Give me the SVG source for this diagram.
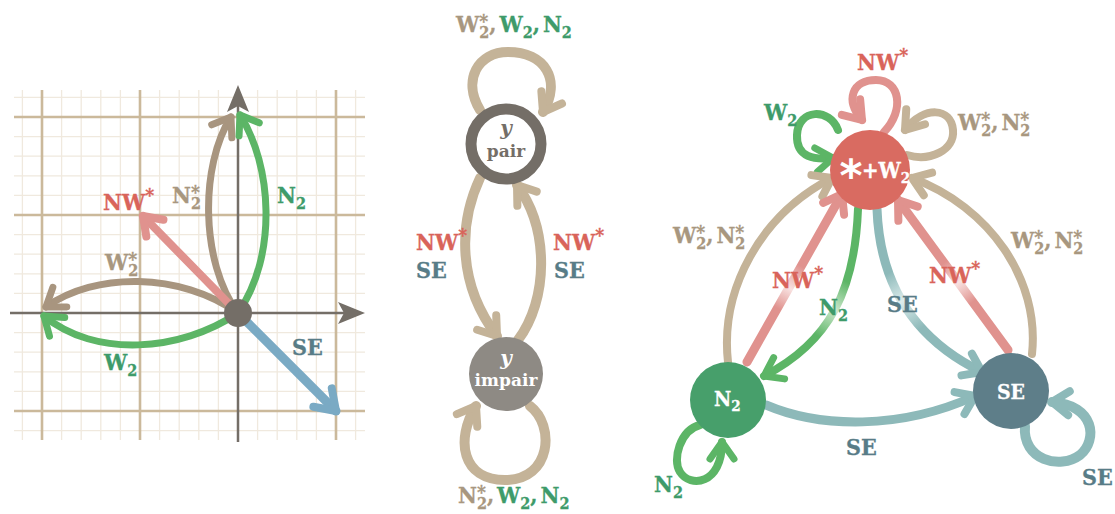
<svg xmlns="http://www.w3.org/2000/svg" width="1115" height="514" viewBox="0 0 1115 514">
<defs>
<style>
.t{font-family:"DejaVu Serif Condensed","DejaVu Serif",serif;font-stretch:condensed;font-weight:700;font-size:23px;stroke-width:0.3;paint-order:stroke}
.s{font-size:16px}
.a{font-size:19px}
.red{fill:#d9645a;stroke:#d9645a}
.grn{fill:#3e9b6a;stroke:#3e9b6a}
.tan{fill:#a8977f;stroke:#a8977f}
.se{fill:#587c87;stroke:#587c87}
.wht{fill:#fff;stroke:#fff}
.ln{fill:none;stroke-linecap:round;stroke-linejoin:round}
.nt{font-family:"DejaVu Serif","Liberation Serif",serif;font-weight:700;fill:#fff;text-anchor:middle}
</style>
<marker id="aTanL" markerUnits="userSpaceOnUse" markerWidth="50" markerHeight="50" viewBox="-25 -25 50 50" refX="0" refY="0" orient="auto" overflow="visible"><path d="M-17,-12 L0,0 L-17,12" fill="none" stroke="#a8957f" stroke-width="7" stroke-linecap="round" stroke-linejoin="round"/></marker>
<marker id="aTan" markerUnits="userSpaceOnUse" markerWidth="50" markerHeight="50" viewBox="-25 -25 50 50" refX="0" refY="0" orient="auto" overflow="visible"><path d="M-17,-12 L0,0 L-17,12" fill="none" stroke="#c4b398" stroke-width="8" stroke-linecap="round" stroke-linejoin="round"/></marker>
<marker id="aGrn" markerUnits="userSpaceOnUse" markerWidth="50" markerHeight="50" viewBox="-25 -25 50 50" refX="0" refY="0" orient="auto" overflow="visible"><path d="M-17,-12 L0,0 L-17,12" fill="none" stroke="#5cb566" stroke-width="7" stroke-linecap="round" stroke-linejoin="round"/></marker>
<marker id="aPnk" markerUnits="userSpaceOnUse" markerWidth="50" markerHeight="50" viewBox="-25 -25 50 50" refX="0" refY="0" orient="auto" overflow="visible"><path d="M-17,-12 L0,0 L-17,12" fill="none" stroke="#e0928e" stroke-width="8" stroke-linecap="round" stroke-linejoin="round"/></marker>
<marker id="aBlu" markerUnits="userSpaceOnUse" markerWidth="50" markerHeight="50" viewBox="-25 -25 50 50" refX="0" refY="0" orient="auto" overflow="visible"><path d="M-19,-13 L0,0 L-19,13" fill="none" stroke="#7aaac4" stroke-width="8" stroke-linecap="round" stroke-linejoin="round"/></marker>
<marker id="aTeal" markerUnits="userSpaceOnUse" markerWidth="50" markerHeight="50" viewBox="-25 -25 50 50" refX="0" refY="0" orient="auto" overflow="visible"><path d="M-17,-12 L0,0 L-17,12" fill="none" stroke="#8db9b9" stroke-width="8" stroke-linecap="round" stroke-linejoin="round"/></marker>
<linearGradient id="gPinkL" gradientUnits="userSpaceOnUse" x1="747" y1="362" x2="842" y2="194"><stop offset="0" stop-color="#e0928e"/><stop offset="0.32" stop-color="#e0928e"/><stop offset="0.44" stop-color="#f8e2e1"/><stop offset="0.57" stop-color="#e0928e"/><stop offset="1" stop-color="#e0928e"/></linearGradient>
<linearGradient id="gPinkR" gradientUnits="userSpaceOnUse" x1="1008" y1="350" x2="898" y2="200"><stop offset="0" stop-color="#e0928e"/><stop offset="0.32" stop-color="#e0928e"/><stop offset="0.45" stop-color="#f8e2e1"/><stop offset="0.58" stop-color="#e0928e"/><stop offset="1" stop-color="#e0928e"/></linearGradient>
<linearGradient id="gGrn" gradientUnits="userSpaceOnUse" x1="858" y1="209" x2="764" y2="376"><stop offset="0" stop-color="#5cb566"/><stop offset="0.36" stop-color="#5cb566"/><stop offset="0.52" stop-color="#cbe7cb"/><stop offset="0.68" stop-color="#5cb566"/><stop offset="1" stop-color="#5cb566"/></linearGradient>
<linearGradient id="gTeal" gradientUnits="userSpaceOnUse" x1="877" y1="209" x2="982" y2="372"><stop offset="0" stop-color="#8db9b9"/><stop offset="0.31" stop-color="#8db9b9"/><stop offset="0.47" stop-color="#dcecec"/><stop offset="0.64" stop-color="#8db9b9"/><stop offset="1" stop-color="#8db9b9"/></linearGradient>
</defs>
<rect width="1115" height="514" fill="#fff"/>

<!-- Left panel: grid -->
<g id="grid">
<path d="M22.4,90V440M61.6,90V440M81.2,90V440M100.8,90V440M120.4,90V440M159.6,90V440M179.2,90V440M198.8,90V440M218.4,90V440M257.6,90V440M277.2,90V440M296.8,90V440M316.4,90V440M355.6,90V440M14,97.4H365M14,136.6H365M14,156.2H365M14,175.8H365M14,195.4H365M14,234.6H365M14,254.2H365M14,273.8H365M14,293.4H365M14,332.6H365M14,352.2H365M14,371.8H365M14,391.4H365M14,430.6H365" stroke="#f0e9de" stroke-width="1.3" fill="none"/>
<path d="M42,90V440M140,90V440M336,90V440M14,117H365M14,215H365M14,411H365" stroke="#cbb99b" stroke-width="2.6" fill="none"/>
</g>
<g id="axes">
<path d="M10,313H345M238,442V105" stroke="#746e67" stroke-width="2.5" fill="none"/>
<polygon points="365,313 338,302 344,313 338,324" fill="#746e67"/>
<polygon points="238,85 227,112 238,106 249,112" fill="#746e67"/>
</g>
<g id="vectors">
<path class="ln" d="M238,313 C180,272 95,272 46,307" stroke="#a8957f" stroke-width="7" marker-end="url(#aTanL)"/>
<path class="ln" d="M238,313 C180,352 95,358 44,316" stroke="#5cb566" stroke-width="7" marker-end="url(#aGrn)"/>
<path class="ln" d="M238,313 C200,262 200,165 231,117" stroke="#a8957f" stroke-width="7" marker-end="url(#aTanL)"/>
<path class="ln" d="M238,313 C278,255 272,165 240,115" stroke="#5cb566" stroke-width="7" marker-end="url(#aGrn)"/>
<path class="ln" d="M238,313 L143,216" stroke="#e0928e" stroke-width="8" marker-end="url(#aPnk)"/>
<path class="ln" d="M238,313 L336,411" stroke="#7aaac4" stroke-width="9" marker-end="url(#aBlu)"/>
</g>
<g id="origin"><circle cx="238" cy="313" r="14" fill="#746e67"/></g>
<g id="left-labels">
<text class="t red" x="103" y="210">NW<tspan class="a" dy="-8">*</tspan></text>
<text class="t tan" x="172" y="203">N<tspan class="s" dy="6">2</tspan><tspan class="a" dx="-10" dy="-10.5">*</tspan></text>
<text class="t grn" x="277" y="203">N<tspan class="s" dy="6">2</tspan></text>
<text class="t tan" x="105" y="270">W<tspan class="s" dy="6">2</tspan><tspan class="a" dx="-10" dy="-10.5">*</tspan></text>
<text class="t grn" x="104" y="370">W<tspan class="s" dy="6">2</tspan></text>
<text class="t se" x="292" y="355">SE</text>
</g>

<!-- Middle panel -->
<g id="mid-connectors">
<path class="ln" d="M480,110 C462,80 478,52 508,52 C545,52 562,80 543,112" stroke="#c4b398" stroke-width="10" marker-end="url(#aTan)"/>
<path class="ln" d="M480,178 C458,225 458,285 497,336" stroke="#c4b398" stroke-width="10" marker-end="url(#aTan)"/>
<path class="ln" d="M518,340 C548,300 550,230 517,185" stroke="#c4b398" stroke-width="10" marker-end="url(#aTan)"/>
<path class="ln" d="M530,406 C555,425 552,480 505,480 C462,480 455,440 476,406" stroke="#c4b398" stroke-width="10" marker-end="url(#aTan)"/>
</g>
<g id="node-pair">
<circle cx="506" cy="144" r="35" fill="#fff" stroke="#746e67" stroke-width="11"/>
<text class="nt" x="506" y="135" font-size="20" font-style="italic" style="fill:#746e67">y</text>
<text class="nt" x="506" y="157" font-size="17" style="fill:#746e67">pair</text>
</g>
<g id="node-impair">
<circle cx="506" cy="374" r="37" fill="#8e8a84"/>
<text class="nt" x="506" y="365" font-size="20" font-style="italic">y</text>
<text class="nt" x="506" y="386" font-size="17">impair</text>
</g>
<g id="mid-labels">
<text class="t" x="456" y="32"><tspan class="tan">W<tspan class="s" dy="6">2</tspan><tspan class="a" dx="-10" dy="-10.5">*</tspan><tspan dx="1" dy="4.5">,</tspan></tspan><tspan class="grn" dx="3">W<tspan class="s" dy="6">2</tspan><tspan dy="-6">,</tspan><tspan dx="3">N</tspan><tspan class="s" dy="6">2</tspan></tspan></text>
<text class="t" x="458" y="503"><tspan class="tan">N<tspan class="s" dy="6">2</tspan><tspan class="a" dx="-10" dy="-10.5">*</tspan><tspan dx="1" dy="4.5">,</tspan></tspan><tspan class="grn" dx="3">W<tspan class="s" dy="6">2</tspan><tspan dy="-6">,</tspan><tspan dx="3">N</tspan><tspan class="s" dy="6">2</tspan></tspan></text>
<text class="t red" x="416" y="250">NW<tspan class="a" dy="-8">*</tspan></text>
<text class="t se" x="416" y="278">SE</text>
<text class="t red" x="553" y="250">NW<tspan class="a" dy="-8">*</tspan></text>
<text class="t se" x="554" y="278">SE</text>
</g>

<!-- Right panel -->
<g id="right-connectors">
<path class="ln" d="M838,130 C830,108 798,108 797,135 C796,158 815,160 833,158" stroke="#5cb566" stroke-width="8" marker-end="url(#aGrn)"/>
<path class="ln" d="M884,132 C905,110 900,80 876,80 C852,80 845,100 862,120" stroke="#e0928e" stroke-width="8" marker-end="url(#aPnk)"/>
<path class="ln" d="M907,155 C930,162 955,150 953,130 C951,108 925,105 905,130" stroke="#c4b398" stroke-width="8" marker-end="url(#aTan)"/>
<path class="ln" d="M728,362 C720,290 760,215 832,178" stroke="#c4b398" stroke-width="8" marker-end="url(#aTan)"/>
<path class="ln" d="M1032,354 C1040,280 990,207 912,178" stroke="#c4b398" stroke-width="8" marker-end="url(#aTan)"/>
<path class="ln" d="M747,362 L842,194" stroke="url(#gPinkL)" stroke-width="9" marker-end="url(#aPnk)"/>
<path class="ln" d="M1008,350 L898,200" stroke="url(#gPinkR)" stroke-width="9" marker-end="url(#aPnk)"/>
<path class="ln" d="M858,209 C855,290 830,342 764,376" stroke="url(#gGrn)" stroke-width="8" marker-end="url(#aGrn)"/>
<path class="ln" d="M877,209 C880,290 920,342 982,372" stroke="url(#gTeal)" stroke-width="9" marker-end="url(#aTeal)"/>
<path class="ln" d="M766,405 C820,428 900,430 975,396" stroke="#8db9b9" stroke-width="9" marker-end="url(#aTeal)"/>
<path class="ln" d="M700,425 C680,430 672,460 680,472 C690,488 722,485 722,442" stroke="#5cb566" stroke-width="8" marker-end="url(#aGrn)"/>
<path class="ln" d="M1025,426 C1022,460 1060,470 1080,455 C1098,440 1095,405 1052,402" stroke="#8db9b9" stroke-width="10" marker-end="url(#aTeal)"/>
</g>
<g id="node-star">
<circle cx="870" cy="170" r="40" fill="#d96b61"/>
<text x="851" y="191" font-family="DejaVu Sans, sans-serif" font-weight="700" font-size="44" fill="#fff" text-anchor="middle">*</text>
<text class="t wht" x="862" y="178" style="font-size:22px">+W<tspan class="s" style="font-size:15px" dy="5">2</tspan></text>
</g>
<g id="node-n2">
<circle cx="728" cy="400" r="38" fill="#479f6b"/>
<text class="t wht" x="714" y="406" style="font-size:21px">N<tspan class="s" style="font-size:15px" dy="5">2</tspan></text>
</g>
<g id="node-se">
<circle cx="1011" cy="391" r="38" fill="#5e7e89"/>
<text class="t wht" x="1011" y="399" style="font-size:21px" text-anchor="middle">SE</text>
</g>
<g id="right-labels">
<text class="t red" x="857" y="70">NW<tspan class="a" dy="-8">*</tspan></text>
<text class="t grn" x="764" y="120">W<tspan class="s" dy="6">2</tspan></text>
<text class="t tan" x="958" y="130">W<tspan class="s" dy="6">2</tspan><tspan class="a" dx="-10" dy="-10.5">*</tspan><tspan dx="1" dy="4.5">,</tspan><tspan dx="3">N</tspan><tspan class="s" dy="6">2</tspan><tspan class="a" dx="-10" dy="-10.5">*</tspan></text>
<text class="t tan" x="673" y="243">W<tspan class="s" dy="6">2</tspan><tspan class="a" dx="-10" dy="-10.5">*</tspan><tspan dx="1" dy="4.5">,</tspan><tspan dx="3">N</tspan><tspan class="s" dy="6">2</tspan><tspan class="a" dx="-10" dy="-10.5">*</tspan></text>
<text class="t tan" x="1011" y="248">W<tspan class="s" dy="6">2</tspan><tspan class="a" dx="-10" dy="-10.5">*</tspan><tspan dx="1" dy="4.5">,</tspan><tspan dx="3">N</tspan><tspan class="s" dy="6">2</tspan><tspan class="a" dx="-10" dy="-10.5">*</tspan></text>
<text class="t red" x="772" y="288">NW<tspan class="a" dy="-8">*</tspan></text>
<text class="t grn" x="819" y="315">N<tspan class="s" dy="6">2</tspan></text>
<text class="t se" x="887" y="312">SE</text>
<text class="t red" x="929" y="283">NW<tspan class="a" dy="-8">*</tspan></text>
<text class="t se" x="846" y="455">SE</text>
<text class="t grn" x="654" y="492">N<tspan class="s" dy="6">2</tspan></text>
<text class="t se" x="1082" y="485">SE</text>
</g>
</svg>
